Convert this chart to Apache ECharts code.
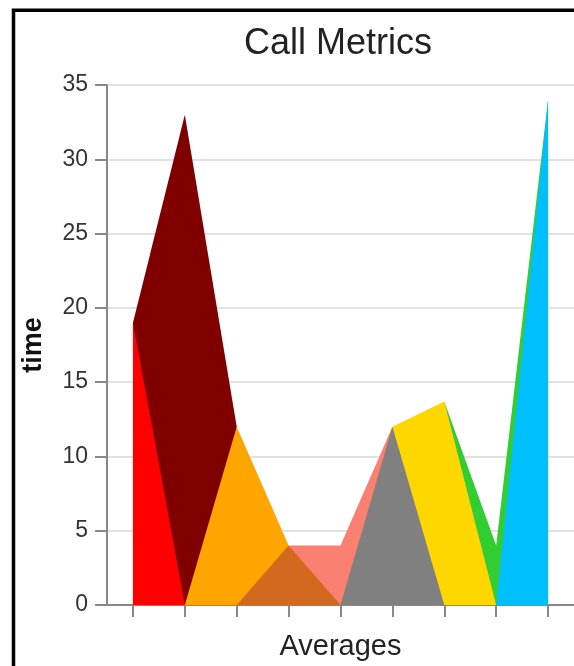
<!DOCTYPE html>
<html>
<head>
<meta charset="utf-8">
<script src="https://cdn.jsdelivr.net/npm/echarts@6/dist/echarts.min.js"></script>
<style>
  html, body { margin: 0; padding: 0; background: #fff; }
  #chart { width: 574px; height: 666px; }
</style>
</head>
<body>
<div id="chart"></div>
<script>
// categories along the x axis (labels are not shown in the picture)
const categories = ['1', '2', '3', '4', '5', '6', '7', '8', '9']
const yTicks = { min: 0, max: 35, interval: 5 }

// one area per colour; null where the area is not drawn
const maroonValues = [19, 33, 12, null, null, null, null, null, null]
const salmonValues = [null, null, null, 4, 4, 12, null, null, null]
const greenValues  = [null, null, null, null, null, null, 13.7, 4, 34]
const redValues    = [19, 0, null, null, null, null, null, null, null]
const orangeValues = [null, 0, 12, 4, null, null, null, null, null]
const yellowValues = [null, null, null, null, null, 12, 13.7, 0, null]
const brownValues  = [null, null, 0, 4, 0, null, null, null, null]
const grayValues   = [null, null, null, null, 0, 12, 0, null, null]
const blueValues   = [null, null, null, null, null, null, null, 0, 34]

// drawing order matters: later areas sit on top
const layers = [
  { name: 'maroon', data: maroonValues, color: '#800000' },
  { name: 'salmon', data: salmonValues, color: '#fa8072' },
  { name: 'green', data: greenValues, color: '#32cd32' },
  { name: 'red', data: redValues, color: '#ff0000' },
  { name: 'orange', data: orangeValues, color: '#ffa500' },
  { name: 'yellow', data: yellowValues, color: '#ffd700' },
  { name: 'brown', data: brownValues, color: '#d2691e' },
  { name: 'gray', data: grayValues, color: '#808080' },
  { name: 'blue', data: blueValues, color: '#00bfff' }
]

const font = '"Liberation Sans", Arial, sans-serif'

const option = {
  animation: false,
  textStyle: { fontFamily: font },
  title: {
    text: 'Call Metrics',
    left: 244,
    top: 26,
    padding: 0,
    textStyle: { fontSize: 36, fontWeight: 'normal', color: '#222', fontFamily: font }
  },
  grid: { left: 107, right: 0, top: 85, bottom: 57 },
  xAxis: {
    type: 'category',
    data: categories,
    boundaryGap: true,
    name: 'Averages',
    nameLocation: 'middle',
    nameGap: 27,
    nameTextStyle: { fontSize: 29, color: '#222', fontFamily: font },
    axisLine: { lineStyle: { color: '#888', width: 2 } },
    axisTick: { show: true, interval: 0, alignWithLabel: true, length: 12, lineStyle: { color: '#888', width: 2 } },
    axisLabel: { show: true, interval: 0, formatter: () => '' },
    splitLine: { show: false }
  },
  yAxis: {
    type: 'value',
    min: yTicks.min,
    max: yTicks.max,
    interval: yTicks.interval,
    name: 'time',
    nameLocation: 'middle',
    nameRotate: 90,
    nameGap: 60,
    nameTextStyle: { fontSize: 27, fontWeight: 'bold', color: '#111', fontFamily: font },
    axisLine: { show: true, lineStyle: { color: '#888', width: 2 } },
    axisTick: { show: true, length: 12, lineStyle: { color: '#888', width: 2 } },
    axisLabel: { fontSize: 23, color: '#333', margin: 19 },
    splitLine: { lineStyle: { color: '#e2e2e2', width: 2 } }
  },
  graphic: [{
    type: 'rect',
    z: 100,
    shape: { x: 13.5, y: 10.3, width: 700, height: 800 },
    style: { fill: 'none', stroke: '#000', lineWidth: 3.5 }
  }],
  series: layers.map(l => ({
    name: l.name,
    type: 'line',
    data: l.data,
    showSymbol: false,
    symbol: 'none',
    connectNulls: false,
    lineStyle: { width: 0, opacity: 0 },
    areaStyle: { color: l.color, opacity: 1 },
    itemStyle: { color: l.color }
  }))
}

const chart = echarts.init(document.getElementById('chart'))
chart.setOption(option)
</script>
</body>
</html>
